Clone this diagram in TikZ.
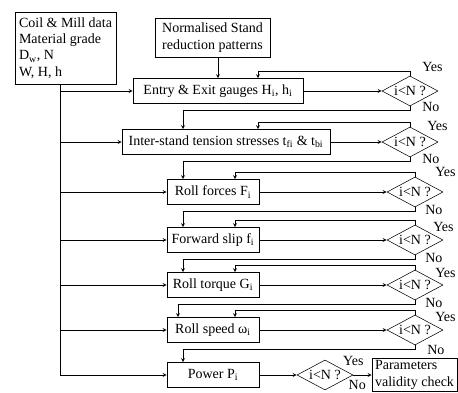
\documentclass[tikz,border=0pt]{standalone}
\usepackage{fontspec}
\setmainfont{Liberation Serif}
\usetikzlibrary{shapes.geometric,calc}

\begin{document}
\begin{tikzpicture}[
    x=0.75pt, y=0.75pt, >=stealth,
    every node/.style={font=\fontsize{10.5}{12.2}\selectfont},
    block/.style={rectangle, draw, minimum height=18.75pt, inner sep=2pt, align=center},
    stage/.style={block, minimum width=69pt},
    test/.style={diamond, draw, aspect=1.8, minimum width=42pt, minimum height=22.5pt, inner sep=0pt},
    lbl/.style={inner sep=0pt, anchor=west}
]
    \useasboundingbox (0,0) rectangle (458,-393);

    % Inputs
    \node[block, align=left, minimum width=75.75pt, minimum height=54pt] (coil) at (65.5,-48) {
        Coil \& Mill data\\
        Material grade\\
        D\textsubscript{w}, N\\
        W, H, h
    };
    \node[block, minimum width=86.25pt, minimum height=29.25pt] (norm) at (212.5,-37.5) {Normalised Stand\\reduction patterns};

    % Calculation stages
    \node[block, minimum width=127.5pt] (entry) at (218,-91) {Entry \& Exit gauges H\textsubscript{i}, h\textsubscript{i}};
    \node[block, minimum width=156pt] (tension) at (226,-142) {Inter-stand tension stresses t\textsubscript{fi} \& t\textsubscript{bi}};
    \node[stage] (force) at (213,-192) {Roll forces F\textsubscript{i}};
    \node[stage] (slip) at (213,-240) {Forward slip f\textsubscript{i}};
    \node[stage] (torque) at (213,-285) {Roll torque G\textsubscript{i}};
    \node[stage] (speed) at (213,-330) {Roll speed ω\textsubscript{i}};
    \node[stage] (power) at (213,-375) {Power P\textsubscript{i}};

    % Stand counters
    \node[test] (d1) at (410,-91) {i<N ?};
    \node[test] (d2) at (410,-142) {i<N ?};
    \node[test] (d3) at (415,-192) {i<N ?};
    \node[test] (d4) at (415,-240) {i<N ?};
    \node[test] (d5) at (415,-285) {i<N ?};
    \node[test] (d6) at (415,-330) {i<N ?};
    \node[test] (d7) at (325,-375) {i<N ?};
    \node[block, align=left, minimum width=63.75pt, minimum height=24.75pt, inner sep=1.5pt] (check) at (414.5,-375) {Parameters\\validity check};

    % Data feed
    \coordinate (trunk) at (60,-84);
    \draw (trunk) -- (trunk |- power.west);
    \draw[->] (trunk |- entry.west) -- (entry.west);
    \draw[->] (trunk |- tension.west) -- (tension.west);
    \draw[->] (trunk |- force.west) -- (force.west);
    \draw[->] (trunk |- slip.west) -- (slip.west);
    \draw[->] (trunk |- torque.west) -- (torque.west);
    \draw[->] (trunk |- speed.west) -- (speed.west);
    \draw[->] (trunk |- power.west) -- (power.west);
    \draw[->] (norm.south -| entry.north) -- (entry.north);

    % Stage to counter
    \draw[->] (entry.east) -- (d1.west);
    \draw[->] (tension.east) -- (d2.west);
    \draw[->] (force.east) -- (d3.west);
    \draw[->] (slip.east) -- (d4.west);
    \draw[->] (torque.east) -- (d5.west);
    \draw[->] (speed.east) -- (d6.west);
    \draw[->] (power.east) -- (d7.west);
    \draw[->] (d7.east) -- (check.west);

    % Yes: next stand
    \draw[->] (d1.north) -- ++(0,4) -| ($(entry.north)+(40,0)$);
    \draw[->] (d2.north) -- ++(0,4) -| ($(tension.north)+(32,0)$);
    \draw[->] (d3.north) -- ++(0,4) -| ($(force.north)+(22,0)$);
    \draw[->] (d4.north) -- ++(0,4) -| ($(slip.north)+(22,0)$);
    \draw[->] (d5.north) -- ++(0,4) -| ($(torque.north)+(22,0)$);
    \draw[->] (d6.north) -- ++(0,4) -| ($(speed.north)+(22,0)$);

    % No: next quantity
    \draw[->] (d1.south) -- ++(0,-4) -| ($(tension.north)+(-43,0)$);
    \draw[->] (d2.south) -- ++(0,-4) -| ($(force.north)+(-30,0)$);
    \draw[->] (d3.south) -- ++(0,-4) -| ($(slip.north)+(-30,0)$);
    \draw[->] (d4.south) -- ++(0,-4) -| ($(torque.north)+(-30,0)$);
    \draw[->] (d5.south) -- ++(0,-4) -| ($(speed.north)+(-35,0)$);
    \draw[->] (d6.south) -- ++(0,-4) -| ($(power.north)+(-30,0)$);

    % Labels
    \node[lbl] (y1) at ($(d1.north)+(12,9)$) {Yes};
    \node[lbl] (y2) at ($(d2.north)+(17,1)$) {Yes};
    \node[lbl] (y3) at ($(d3.north)+(20,5)$) {Yes};
    \node[lbl] (y4) at ($(d4.north)+(18,-2)$) {Yes};
    \node[lbl] (y5) at ($(d5.north)+(20,-3)$) {Yes};
    \node[lbl] (y6) at ($(d6.north)+(20,-2)$) {Yes};
    \node[lbl] (n1) at ($(d1.south)+(12,-1)$) {No};
    \node[lbl] (n2) at ($(d2.south)+(12,-2)$) {No};
    \node[lbl] (n3) at ($(d3.south)+(10,-3)$) {No};
    \node[lbl] (n4) at ($(d4.south)+(10,-3)$) {No};
    \node[lbl] (n5) at ($(d5.south)+(10,-3)$) {No};
    \node[lbl] (n6) at ($(d6.south)+(12,-5)$) {No};
    \node[inner sep=0pt] (y7) at ($(d7.east)+(0,14)$) {Yes};
    \node[inner sep=0pt] (n7) at ($(d7.east)+(4,-10)$) {No};
\end{tikzpicture}
\end{document}
